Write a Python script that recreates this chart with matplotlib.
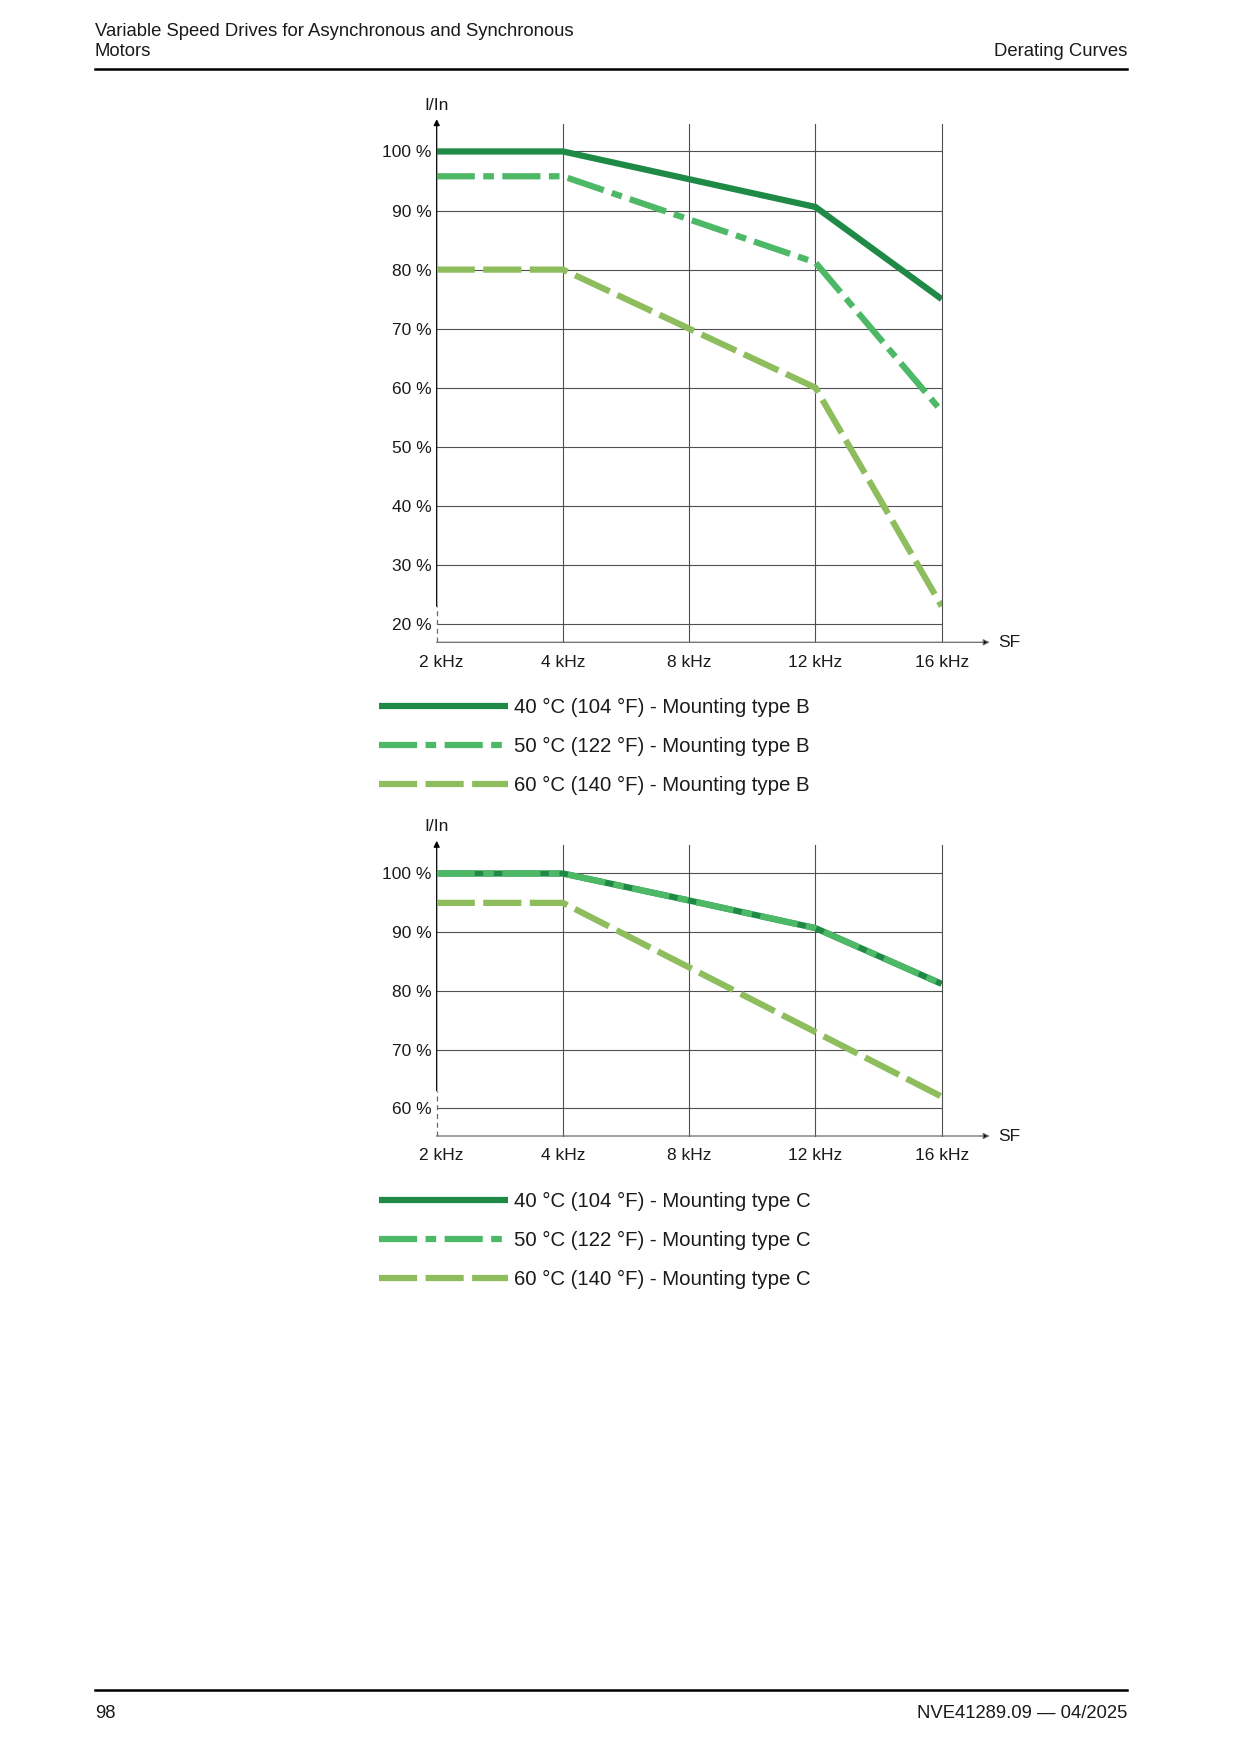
import matplotlib
matplotlib.use('Agg')
import matplotlib.pyplot as plt
from matplotlib.lines import Line2D
from matplotlib.transforms import ScaledTranslation

plt.rcParams['font.family'] = ['Liberation Sans', 'DejaVu Sans']

# ---------------- data ----------------
freq_labels = ['2 kHz', '4 kHz', '8 kHz', '12 kHz', '16 kHz']

pct_ticks_b = [20, 30, 40, 50, 60, 70, 80, 90, 100]
pct_ticks_c = [60, 70, 80, 90, 100]

b_40 = [100, 100, 95.3, 90.6, 75]
b_50 = [95.8, 95.8, 88.5, 81.2, 56]
b_60 = [80, 80, 70, 60, 23]

c_40 = [100, 100, 95.4, 90.7, 81.2]
c_50 = [100, 100, 95.4, 90.7, 81.2]
c_60 = [95, 95, 84, 73, 62]

labels_b = ['40 °C (104 °F) - Mounting type B',
            '50 °C (122 °F) - Mounting type B',
            '60 °C (140 °F) - Mounting type B']
labels_c = ['40 °C (104 °F) - Mounting type C',
            '50 °C (122 °F) - Mounting type C',
            '60 °C (140 °F) - Mounting type C']

# ---------------- style ----------------
DARK = '#1f8a45'
MID = '#4db866'
LIGHT = '#8dbd5c'
GRID = '#505050'
AXIS = '#6a6a6a'
TXT = '#1a1a1a'
LW = 4.5

W, H = 1241, 1754
fig = plt.figure(figsize=(W / 100, H / 100), dpi=100)


def rect(l, t, r, b):
    return [l / W, 1 - b / H, (r - l) / W, (b - t) / H]


def draw(ax_rect, ylim, yticks, s40, s50, s60, labels, leg_top, ylabel_y):
    ax = fig.add_axes(ax_rect)
    x = list(range(len(freq_labels)))
    ax.set_xlim(0, len(freq_labels) - 1)
    ax.set_ylim(*ylim)
    for s in ['top', 'right', 'left', 'bottom']:
        ax.spines[s].set_visible(False)
    ax.set_xticks(x)
    ax.set_xticklabels(freq_labels)
    ax.set_yticks(yticks)
    ax.set_yticklabels([f'{v} %' for v in yticks])
    ax.tick_params(length=0, labelsize=12.5, colors=TXT)
    ax.tick_params(axis='x', pad=9)
    ax.tick_params(axis='y', pad=3.5)
    # first x label sits slightly right of the axis in the original
    first = ax.get_xticklabels()[0]
    first.set_transform(first.get_transform() + ScaledTranslation(5 / 100, 0, fig.dpi_scale_trans))

    for v in yticks:
        ax.axhline(v, color=GRID, lw=0.8, zorder=1)
    for xi in x[1:]:
        ax.axvline(xi, color=GRID, lw=0.8, zorder=1, clip_on=False)

    # y axis: dashed near the bottom (axis break), solid above, arrow at top
    brk = yticks[0] + 3
    ax.plot([0, 0], [ylim[0], brk], color=AXIS, lw=0.9, dashes=(4, 3),
            clip_on=False, zorder=2)
    ax.annotate('', xy=(0, 1.0 + 4.5 / (ax_rect[3] * H)), xycoords=('data', 'axes fraction'),
                xytext=(0, brk), textcoords='data',
                arrowprops=dict(arrowstyle='-|>', color='black', lw=0.9,
                                mutation_scale=9, shrinkA=0, shrinkB=0),
                zorder=2)
    # x axis with arrow
    ax.annotate('', xy=(4.38, ylim[0]), xytext=(0, ylim[0]),
                xycoords='data', textcoords='data',
                arrowprops=dict(arrowstyle='-|>', color='black', lw=0.9,
                                mutation_scale=9, shrinkA=0, shrinkB=0,
                                ec=AXIS, fc='black'),
                annotation_clip=False, zorder=2)
    ax.text(4.45, ylim[0], 'SF', fontsize=12.5, color=TXT, va='center', ha='left',
            clip_on=False)
    ax.text(0, ylabel_y, 'I/In', fontsize=12.5, color=TXT, va='center', ha='center',
            transform=ax.get_xaxis_transform(), clip_on=False)

    l1, = ax.plot(x, s40, color=DARK, lw=LW, solid_capstyle='butt',
                  solid_joinstyle='miter', zorder=3)
    l2, = ax.plot(x, s50, color=MID, lw=LW, dashes=(6.1, 1.35, 1.7, 1.35),
                  dash_capstyle='butt', dash_joinstyle='miter', zorder=4)
    l3, = ax.plot(x, s60, color=LIGHT, lw=LW, dashes=(6.1, 1.35),
                  dash_capstyle='butt', dash_joinstyle='miter', zorder=5)

    fs = 14.7
    ax.legend([l1, l2, l3], labels, loc='upper left',
              bbox_to_anchor=(378.5 / W, 1 - leg_top / H),
              bbox_transform=fig.transFigure, frameon=False, fontsize=fs,
              handlelength=93 / fs, handletextpad=4.5 / fs, borderpad=0,
              borderaxespad=0, labelspacing=0.98, labelcolor=TXT)
    return ax


# chart B
draw(rect(436.7, 123.7, 941.7, 642.3), (16.9, 104.7), pct_ticks_b,
     b_40, b_50, b_60, labels_b, 698, 1.036)
# chart C
draw(rect(436.7, 845.3, 941.7, 1136.0), (55.3, 104.8), pct_ticks_c,
     c_40, c_50, c_60, labels_c, 1192, 1.066)

# header
fig.text(95 / W, 1 - 31 / H, 'Variable Speed Drives for Asynchronous and Synchronous',
         fontsize=13.3, color=TXT, va='center', ha='left')
fig.text(95 / W, 1 - 52 / H, 'Motors', fontsize=13.3, color=TXT, va='center', ha='left')
fig.text(1127 / W, 1 - 52 / H, 'Derating Curves', fontsize=13.3, color=TXT,
         va='center', ha='right')
fig.add_artist(Line2D([95 / W, 1127 / W], [1 - 69 / H, 1 - 69 / H], lw=1.8, color='black'))

# footer
fig.add_artist(Line2D([95 / W, 1127 / W], [1 - 1689.5 / H, 1 - 1689.5 / H], lw=1.8,
                      color='black'))
fig.text(95 / W, 1 - 1714 / H, '98', fontsize=13.3, color=TXT, va='center', ha='left')
fig.text(1127 / W, 1 - 1714 / H, 'NVE41289.09 — 04/2025', fontsize=13.3, color=TXT,
         va='center', ha='right')

fig.savefig('out.png', dpi=100, facecolor='white')
